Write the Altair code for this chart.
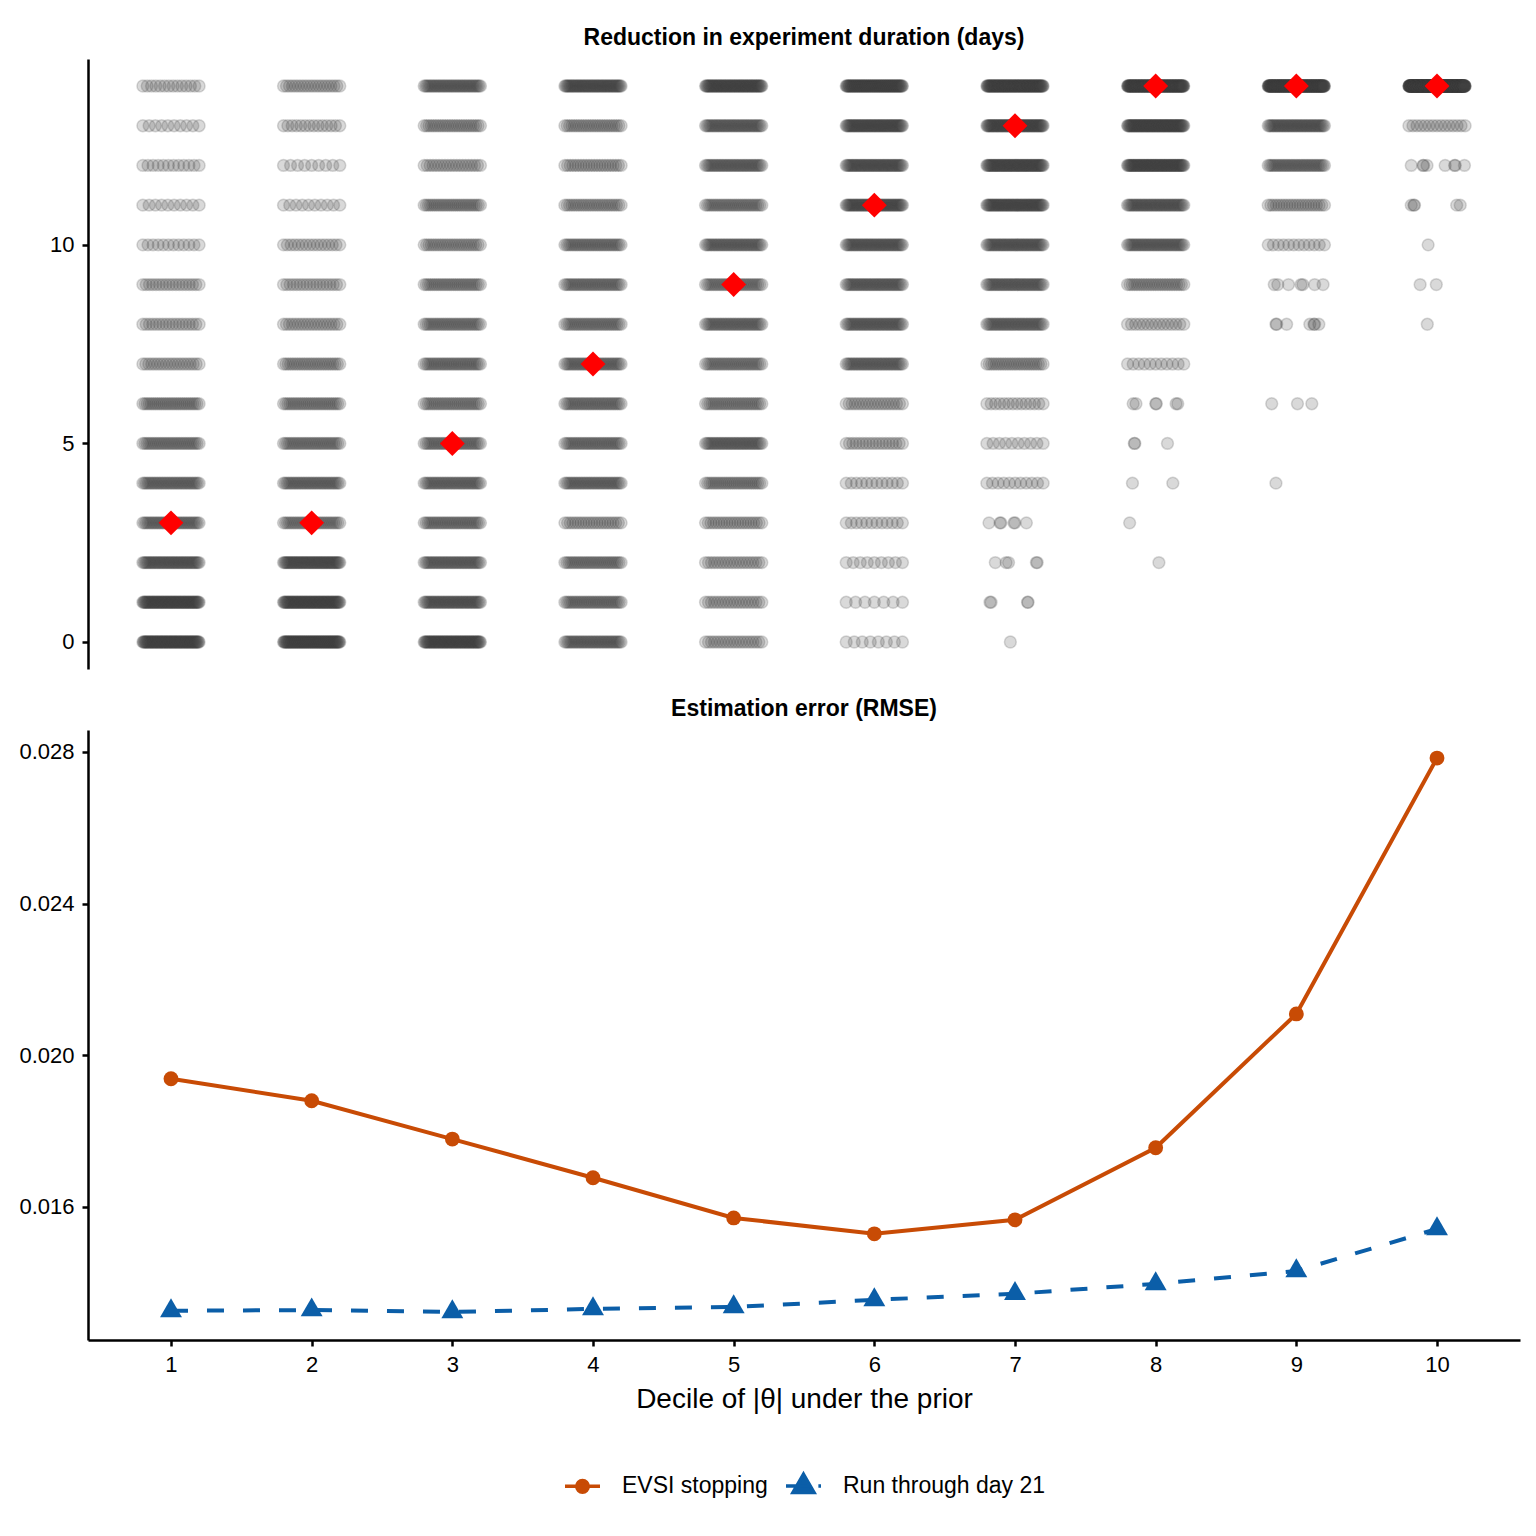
import altair as alt
import pandas as pd

# ---------------- data ----------------
deciles = [1, 2, 3, 4, 5, 6, 7, 8, 9, 10]
days = list(range(0, 15))

# approximate number of simulated experiments in each (decile, reduction-in-days) cell,
# listed for days 0..14, read from the density of the strips
counts = {
    1: [80, 70, 45, 35, 35, 30, 28, 20, 18, 18, 12, 10, 12, 10, 14],
    2: [85, 70, 55, 30, 35, 30, 28, 25, 20, 18, 16, 10, 9, 14, 20],
    3: [70, 45, 38, 32, 35, 32, 28, 32, 30, 28, 25, 28, 20, 25, 40],
    4: [38, 32, 30, 22, 35, 32, 32, 35, 30, 32, 32, 25, 22, 25, 55],
    5: [20, 20, 20, 22, 28, 38, 28, 30, 35, 30, 38, 30, 38, 40, 70],
    6: [8, 7, 9, 12, 12, 18, 20, 38, 40, 40, 45, 55, 50, 60, 85],
    7: [1, 4, 5, 6, 11, 10, 14, 25, 38, 40, 45, 60, 65, 70, 100],
    8: [0, 0, 1, 1, 2, 3, 6, 11, 15, 25, 40, 45, 70, 80, 150],
    9: [0, 0, 0, 0, 1, 0, 3, 0, 7, 7, 12, 22, 35, 45, 200],
    10: [0, 0, 0, 0, 0, 0, 0, 0, 1, 2, 1, 5, 8, 15, 350],
}

# horizontal positions (offset from the decile) of the individually visible points in sparse cells
sparse = {
    (7, 0): [-0.033],
    (7, 1): [-0.178, -0.17, 0.089, 0.093],
    (7, 2): [-0.14, -0.063, -0.046, 0.152, 0.158],
    (7, 3): [-0.185, -0.107, -0.1, -0.008, 0.0, 0.081],
    (8, 2): [0.023],
    (8, 3): [-0.185],
    (8, 4): [-0.165, 0.122],
    (8, 5): [-0.152, -0.148, 0.084],
    (8, 6): [-0.16, -0.14, 0.0, 0.005, 0.145, 0.157],
    (9, 4): [-0.145],
    (9, 6): [-0.175, 0.008, 0.11],
    (9, 8): [-0.145, -0.14, -0.069, 0.096, 0.125, 0.13, 0.16],
    (9, 9): [-0.157, -0.132, -0.056, 0.033, 0.046, 0.13, 0.19],
    (10, 8): [-0.069],
    (10, 9): [-0.12, -0.005],
    (10, 10): [-0.063],
    (10, 11): [-0.183, -0.165, -0.16, 0.14, 0.165],
    (10, 12): [-0.183, -0.1, -0.095, -0.071, 0.058, 0.125, 0.13, 0.195],
}

# median reduction per decile (red diamonds)
medians = [3, 3, 5, 7, 9, 11, 13, 14, 14, 14]

# RMSE per decile
evsi_rmse = [0.01938, 0.01880, 0.01779, 0.01677, 0.01571, 0.01529, 0.01566, 0.01756, 0.02109, 0.02784]
run_rmse = [0.01326, 0.01328, 0.01323, 0.01331, 0.01336, 0.01355, 0.01371, 0.01397, 0.01431, 0.01542]

series_names = ["EVSI stopping", "Run through day 21"]
orange = "#c84b05"
blue = "#0b5ea8"

# ---------------- tables ----------------
rows = []
for d in deciles:
    for day in days:
        if (d, day) in sparse:
            offs = sparse[(d, day)]
        else:
            n = counts[d][day]
            if n == 0:
                continue
            offs = [0.0] if n == 1 else [-0.2 + 0.4 * k / (n - 1) for k in range(n)]
        for o in offs:
            rows.append({"x": d + o, "day": day})
pts_df = pd.DataFrame(rows)
med_df = pd.DataFrame({"decile": deciles, "median": medians})

rmse_df = pd.concat([
    pd.DataFrame({"decile": deciles, "rmse": evsi_rmse, "series": series_names[0]}),
    pd.DataFrame({"decile": deciles, "rmse": run_rmse, "series": series_names[1]}),
])

FONT = "Liberation Sans"
xdom = [0.41, 10.59]

# ---------------- top panel ----------------
xs_top = alt.Scale(domain=xdom, nice=False, zero=False)
ys_top = alt.Scale(domain=[-0.68, 14.68], nice=False, zero=False)

strip = alt.Chart(pts_df).mark_circle(
    size=140, color="#404040", opacity=1, fillOpacity=0.2,
    stroke="#404040", strokeOpacity=0.2, strokeWidth=1.5
).encode(
    x=alt.X("x:Q", scale=xs_top, axis=None),
    y=alt.Y("day:Q", scale=ys_top, axis=alt.Axis(values=[0, 5, 10], title=None)),
)
diam = alt.Chart(med_df).mark_point(
    shape="diamond", filled=True, color="#ff0000", size=620, opacity=1
).encode(
    x=alt.X("decile:Q", scale=xs_top, axis=None),
    y=alt.Y("median:Q", scale=ys_top),
)
top = alt.layer(strip, diam).properties(
    width=1432, height=610,
    title=alt.TitleParams("Reduction in experiment duration (days)", offset=9),
)

# ---------------- bottom panel ----------------
xs_bot = alt.Scale(domain=xdom, nice=False, zero=False)
ys_bot = alt.Scale(domain=[0.01249, 0.02858], nice=False, zero=False)
X = alt.X("decile:Q", scale=xs_bot,
          axis=alt.Axis(values=deciles, format="d", title="Decile of |θ| under the prior",
                        titleFontSize=28, titleFontWeight="normal", titlePadding=10))
Y = alt.Y("rmse:Q", scale=ys_bot,
          axis=alt.Axis(values=[0.016, 0.020, 0.024, 0.028], format=".3f", title=None))

base = alt.Chart(rmse_df)
evsi_line = base.transform_filter(alt.datum.series == series_names[0]).mark_line(
    color=orange, strokeWidth=4).encode(x=X, y=Y)
evsi_pts = base.transform_filter(alt.datum.series == series_names[0]).mark_point(
    shape="circle", filled=True, color=orange, size=220, opacity=1).encode(x=X, y=Y)
run_line = base.transform_filter(alt.datum.series == series_names[1]).mark_line(
    color=blue, strokeWidth=4, strokeDash=[17, 19]).encode(x=X, y=Y)
tri_path = "M0,-1.155L1,0.577L-1,0.577Z"
run_pts = base.transform_filter(alt.datum.series == series_names[1]).mark_point(
    shape=tri_path, filled=True, color=blue, size=480, opacity=1).encode(x=X, y=Y)

# legend keys: line + marker drawn as a path (solid line with circle, dashed line with triangle)
key_evsi = "M-1,0H1M0.33,0A0.33,0.33,0,1,1,-0.33,0A0.33,0.33,0,1,1,0.33,0Z"
key_run = "M-1,0H0.3M0.85,0H1M0,-0.66L0.6,0.38L-0.6,0.38Z"
leg = alt.Legend(title=None, orient="none", legendX=475, legendY=1407, direction="horizontal",
                 symbolSize=1225, symbolStrokeWidth=3.5, labelFontSize=23, labelOffset=20,
                 columnPadding=11, labelColor="black", labelFont=FONT, labelLimit=500)
legend_layer = base.transform_filter("false").mark_point(filled=True, opacity=1, strokeWidth=3.5).encode(
    x=X, y=Y,
    shape=alt.Shape("series:N", scale=alt.Scale(domain=series_names, range=[key_evsi, key_run]), legend=leg),
    fill=alt.Fill("series:N", scale=alt.Scale(domain=series_names, range=[orange, blue]), legend=leg),
    stroke=alt.Stroke("series:N", scale=alt.Scale(domain=series_names, range=[orange, blue]), legend=leg),
)

bottom = alt.layer(run_line, evsi_line, run_pts, evsi_pts, legend_layer).properties(
    width=1432, height=610,
    title=alt.TitleParams("Estimation error (RMSE)", offset=9),
)

chart = alt.vconcat(top, bottom, spacing=29).properties(
    padding={"left": 10, "top": 19, "right": 8, "bottom": 10}
).configure_view(stroke=None).configure_axis(
    domainColor="black", domainWidth=2.5, tickColor="black", tickWidth=2.5, tickSize=6,
    labelColor="black", labelFontSize=22, labelFont=FONT, titleFont=FONT, titleColor="black",
    grid=False, labelPadding=8,
).configure_title(
    font=FONT, fontSize=23, fontWeight="bold", color="black", anchor="middle",
)

chart.save("out.html", embed_options={"renderer": "svg", "actions": False})
